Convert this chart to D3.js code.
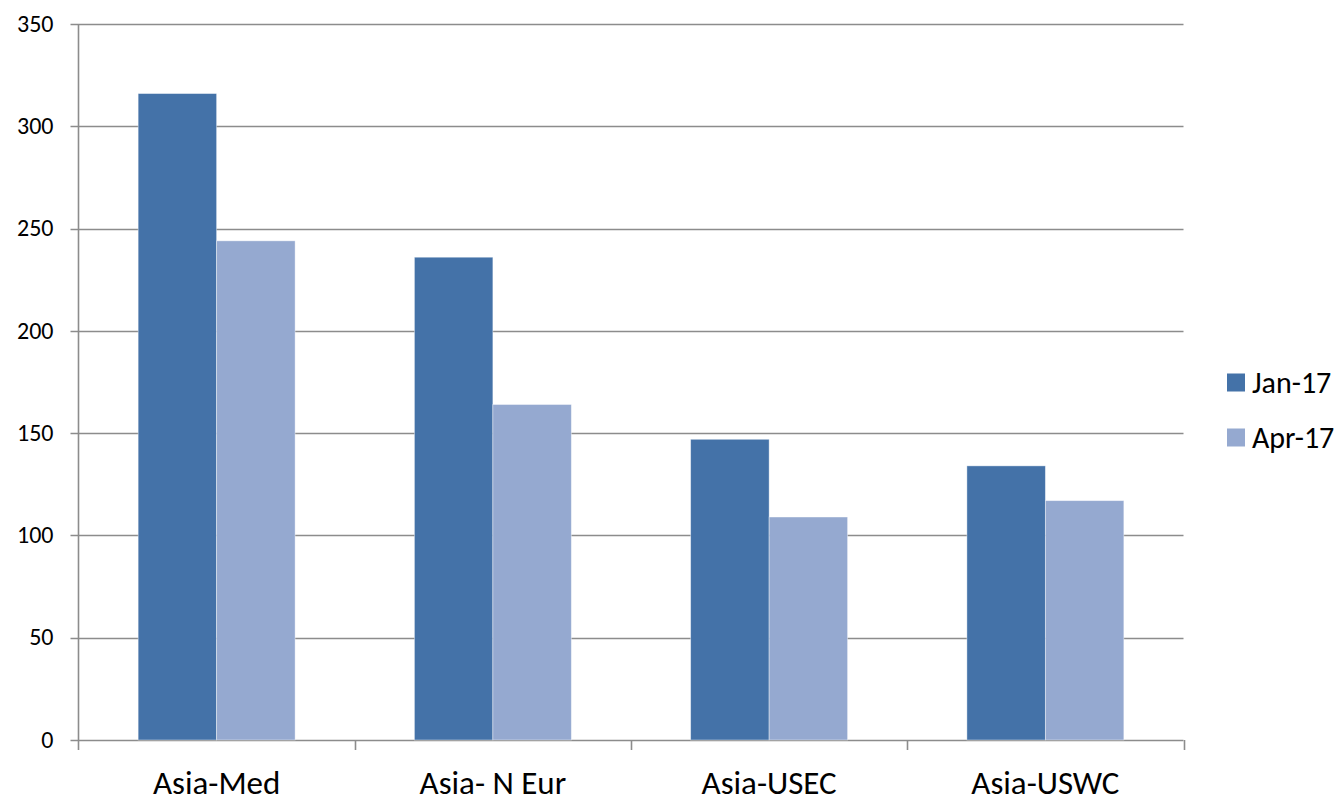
<!DOCTYPE html>
<html>
<head>
<meta charset="utf-8">
<script src="https://cdn.jsdelivr.net/npm/d3@7"></script>
<style>
  html, body { margin: 0; padding: 0; background: #fff; }
  svg text { font-family: Carlito, "Open Sans", "Noto Sans", sans-serif; fill: #000; }
</style>
</head>
<body>
<svg id="chart" width="1344" height="802"></svg>
<script>
// Trade lanes and freight index values for two months
const categories = ["Asia-Med", "Asia- N Eur", "Asia-USEC", "Asia-USWC"];
const seriesNames = ["Jan-17", "Apr-17"];
const jan17 = [316, 236, 147, 134];
const apr17 = [244, 164, 109, 117];
const yTicks = [0, 50, 100, 150, 200, 250, 300, 350];
const colors = ["#4472a8", "#95a9d0"];

const svg = d3.select("#chart");
const margin = { left: 78.5, right: 1183.5, top: 24, bottom: 740 };

const x = d3.scaleBand().domain(categories).range([margin.left, margin.right]).paddingInner(0).paddingOuter(0);
const xSub = d3.scaleBand().domain(seriesNames).range([0, x.bandwidth()]).paddingInner(0).paddingOuter(0.76);
const y = d3.scaleLinear().domain([0, 350]).range([margin.bottom, margin.top]);

// Horizontal gridlines
svg.append("g").selectAll("line").data(yTicks).join("line")
  .attr("x1", margin.left - 8).attr("x2", margin.right)
  .attr("y1", d => Math.round(y(d)) + 0.5).attr("y2", d => Math.round(y(d)) + 0.5)
  .attr("stroke", "#8c8c8c").attr("stroke-width", 1.6);

// Bars
const series = [jan17, apr17];
const groups = svg.append("g").selectAll("g").data(series).join("g")
  .attr("fill", (d, i) => colors[i]);
groups.selectAll("rect").data((d, i) => d.map((v, j) => ({ v, cat: categories[j], s: seriesNames[i] })))
  .join("rect")
  .attr("x", d => x(d.cat) + xSub(d.s))
  .attr("width", xSub.bandwidth())
  .attr("y", d => y(d.v))
  .attr("height", d => y(0) - y(d.v))
  .attr("stroke", "#ffffff").attr("stroke-opacity", 0.5).attr("stroke-width", 0.8);

// Y axis
const yAxis = d3.axisLeft(y).tickValues(yTicks).tickSize(0).tickPadding(25);
const yg = svg.append("g").attr("transform", `translate(${margin.left},0)`).call(yAxis);
yg.select(".domain").remove();
yg.selectAll("text").attr("font-size", 24).attr("dy", "0.3em");
svg.append("line")
  .attr("x1", margin.left).attr("x2", margin.left)
  .attr("y1", margin.top).attr("y2", margin.bottom + 10)
  .attr("stroke", "#8c8c8c").attr("stroke-width", 1.6);

// X axis category ticks at band boundaries
const bounds = categories.map(c => x(c)).concat([x(categories[categories.length - 1]) + x.bandwidth()]);
svg.append("g").selectAll("line").data(bounds.slice(1)).join("line")
  .attr("x1", d => Math.round(d) + 0.5).attr("x2", d => Math.round(d) + 0.5)
  .attr("y1", margin.bottom).attr("y2", margin.bottom + 10)
  .attr("stroke", "#8c8c8c").attr("stroke-width", 1.6);

// Category labels
svg.append("g").selectAll("text").data(categories).join("text")
  .attr("x", d => x(d) + x.bandwidth() / 2)
  .attr("y", 794)
  .attr("text-anchor", "middle")
  .attr("font-size", 33)
  .text(d => d);

// Legend
const legend = svg.append("g").selectAll("g").data(seriesNames).join("g")
  .attr("transform", (d, i) => `translate(1227,${373.5 + i * 55})`);
legend.append("rect").attr("width", 18).attr("height", 18).attr("fill", (d, i) => colors[i]);
legend.append("text").attr("x", 25).attr("y", 9).attr("dy", "0.35em")
  .attr("font-size", 30).text(d => d);
</script>
</body>
</html>
